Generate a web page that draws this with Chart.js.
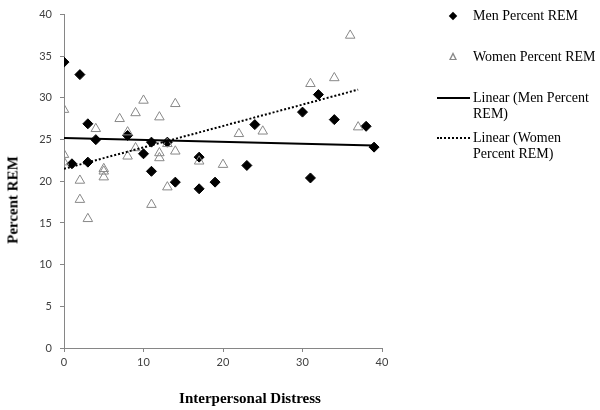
<!DOCTYPE html>
<html>
<head>
<meta charset="utf-8">
<script src="https://cdn.jsdelivr.net/npm/chart.js@4.4.1/dist/chart.umd.min.js"></script>
<style>
  body { margin: 0; background: #fff; }
  #wrap { position: relative; width: 600px; height: 410px; }
  .serif { position: absolute; font-family: "Liberation Serif", "Times New Roman", serif; color: #000; white-space: nowrap; }
  .lg { font-size: 14px; line-height: 16px; }
  .ttl { font-size: 15px; font-weight: bold; }
  .mk { position: absolute; }
</style>
</head>
<body>
<div id="wrap">
  <canvas id="myChart" width="600" height="410"></canvas>

  <!-- titres des eixos -->
  <div class="serif ttl" style="left:250px; top:398px; transform:translate(-50%,-50%);">Interpersonal Distress</div>
  <div class="serif ttl" style="left:13px; top:200px; transform:translate(-50%,-50%) rotate(-90deg);">Percent REM</div>

  <!-- legenda -->
  <div class="mk" style="left:450px; top:13px; width:6px; height:6px; background:#000; transform:rotate(45deg);"></div>
  <div class="serif lg" style="left:473px; top:8px;">Men Percent REM</div>

  <div class="mk" style="left:449px; top:52px; width:0; height:0; border-left:4px solid transparent; border-right:4px solid transparent; border-bottom:8px solid #888;"></div>
  <div class="mk" style="left:450.5px; top:55px; width:0; height:0; border-left:2.5px solid transparent; border-right:2.5px solid transparent; border-bottom:4.5px solid #fff;"></div>
  <div class="serif lg" style="left:473px; top:49px;">Women Percent REM</div>

  <div class="mk" style="left:437px; top:97px; width:33px; height:0; border-top:2px solid #000;"></div>
  <div class="serif lg" style="left:473px; top:90px;">Linear (Men Percent<br>REM)</div>

  <div class="mk" style="left:437px; top:137px; width:33px; height:0; border-top:2px dotted #000;"></div>
  <div class="serif lg" style="left:473px; top:130px;">Linear (Women<br>Percent REM)</div>
</div>

<script>
// dados
var menX = [0, 1, 2, 3, 3, 4, 8, 10, 11, 11, 13, 14, 17, 17, 19, 23, 24, 30, 31, 32, 34, 38, 39];
var menY = [34.3, 22.1, 32.8, 26.9, 22.3, 25.0, 25.5, 23.3, 24.7, 21.2, 24.7, 19.9, 22.9, 19.1, 19.9, 21.9, 26.8, 28.3, 20.4, 30.4, 27.4, 26.6, 24.1];

var womenX = [0, 0, 0, 2, 2, 3, 4, 5, 5, 5, 7, 8, 8, 9, 9, 10, 11, 12, 12, 12, 13, 13, 14, 14, 17, 20, 22, 25, 31, 34, 36, 37];
var womenY = [28.6, 23.2, 22.3, 20.1, 17.8, 15.5, 26.3, 21.5, 21.2, 20.5, 27.5, 25.9, 23.0, 28.2, 24.0, 29.7, 17.2, 27.7, 23.4, 22.8, 19.3, 24.5, 29.3, 23.6, 22.4, 22.0, 25.7, 26.0, 31.7, 32.4, 37.5, 26.5];

// linhas de tendência (extremos)
var menTrendX = [0, 39];
var menTrendY = [25.2, 24.3];
var womenTrendX = [0, 37];
var womenTrendY = [21.5, 31.0];

var xTicks = [0, 10, 20, 30, 40];
var yTicks = [0, 5, 10, 15, 20, 25, 30, 35, 40];

function pares(xs, ys) {
    return xs.map(function (x, i) { return { x: x, y: ys[i] }; });
}

var axisColor = '#868686';

var ctx = document.getElementById('myChart').getContext('2d');
var myChart = new Chart(ctx, {
    type: 'scatter',
    data: {
        datasets: [
            {
                label: 'Linear (Men Percent REM)',
                type: 'line',
                data: pares(menTrendX, menTrendY),
                borderColor: '#000',
                borderWidth: 2,
                pointRadius: 0,
                fill: false
            },
            {
                label: 'Linear (Women Percent REM)',
                type: 'line',
                data: pares(womenTrendX, womenTrendY),
                borderColor: '#000',
                borderWidth: 2,
                borderDash: [2, 2],
                pointRadius: 0,
                fill: false
            },
            {
                label: 'Women Percent REM',
                data: pares(womenX, womenY),
                pointStyle: 'triangle',
                pointRadius: 5.5,
                backgroundColor: 'rgba(255,255,255,0)',
                borderColor: '#888',
                borderWidth: 1
            },
            {
                label: 'Men Percent REM',
                data: pares(menX, menY),
                pointStyle: 'rectRot',
                pointRadius: 5,
                backgroundColor: '#000',
                borderColor: '#000',
                borderWidth: 1
            }
        ]
    },
    options: {
        responsive: false,
        animation: false,
        layout: { padding: { left: 0, right: 218, top: 11, bottom: 0 } },
        plugins: {
            legend: { display: false },
            tooltip: { enabled: false }
        },
        scales: {
            x: {
                type: 'linear',
                min: 0,
                max: 40,
                afterFit: function (s) { s.height = 62; },
                afterBuildTicks: function (s) { s.ticks = xTicks.map(function (v) { return { value: v }; }); },
                border: { color: axisColor, width: 1 },
                grid: { drawOnChartArea: false, color: axisColor, tickLength: 4 },
                ticks: { padding: 4, color: '#404040', font: { family: 'Lato', size: 11 } }
            },
            y: {
                type: 'linear',
                min: 0,
                max: 40,
                afterFit: function (s) { s.width = 64; },
                afterBuildTicks: function (s) { s.ticks = yTicks.map(function (v) { return { value: v }; }); },
                border: { color: axisColor, width: 1 },
                grid: { drawOnChartArea: false, color: axisColor, tickLength: 4 },
                ticks: { padding: 8, color: '#404040', font: { family: 'Lato', size: 11 } }
            }
        }
    }
});
</script>
</body>
</html>
